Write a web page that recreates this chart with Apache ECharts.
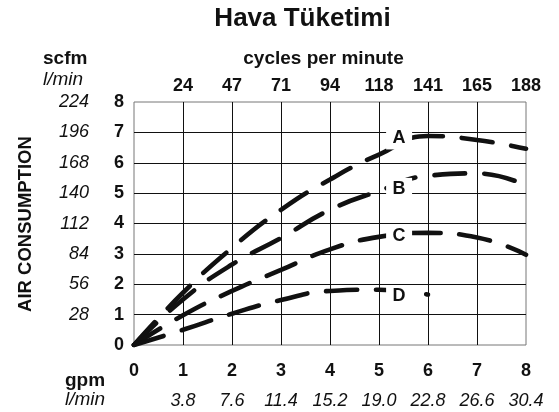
<!DOCTYPE html>
<html>
<head>
<meta charset="utf-8">
<script src="https://cdn.jsdelivr.net/npm/echarts@6/dist/echarts.min.js"></script>
<style>
html,body{margin:0;padding:0;background:#fff;}
#chart{width:559px;height:412px;}
</style>
</head>
<body>
<div id="chart"></div>
<script>
// ---- data ----
const gpm = [0, 1, 2, 3, 4, 5, 6, 7, 8];
const gpmLmin = ['', '3.8', '7.6', '11.4', '15.2', '19.0', '22.8', '26.6', '30.4'];
const cyclesPerMinute = ['', '24', '47', '71', '94', '118', '141', '165', '188'];
const scfmLmin = ['', '28', '56', '84', '112', '140', '168', '196', '224'];

const curveA = [0, 1.72, 3.2, 4.45, 5.45, 6.27, 6.88, 6.75, 6.46];
const curveB = [0, 1.5, 2.65, 3.52, 4.45, 5.07, 5.57, 5.65, 5.25];
const curveC = [0, 0.98, 1.78, 2.47, 3.15, 3.56, 3.69, 3.54, 2.97];
const curveD = [0, 0.5, 1.03, 1.48, 1.78, 1.82, 1.66];

const curveNames = ['A', 'B', 'C', 'D'];
const labelX = [5.41, 5.41, 5.41, 5.41];
const labelY = [6.80, 5.14, 3.59, 1.61];

const FONT = 'Liberation Sans, Arial, Helvetica, sans-serif';

function pairs(vals) { return vals.map((v, i) => [gpm[i], v]); }

function curveSeries(name, vals) {
  return {
    name: name,
    type: 'line',
    data: pairs(vals),
    smooth: true,
    showSymbol: false,
    symbol: 'none',
    silent: true,
    z: 3,
    lineStyle: { color: '#111', width: 4.6, type: [31, 19], cap: 'round', opacity: 1 }
  };
}

const chart = echarts.init(document.getElementById('chart'));
chart.setOption({
  animation: false,
  backgroundColor: '#fff',
  grid: { left: 134, right: 33, top: 102, bottom: 67, show: true, borderColor: '#777', borderWidth: 1 },
  xAxis: [
    {
      type: 'value', position: 'bottom', min: 0, max: 8, interval: 1,
      axisLine: { show: false }, axisTick: { show: false },
      splitLine: { show: true, showMinLine: false, showMaxLine: false, lineStyle: { color: '#111', width: 1 } },
      axisLabel: { color: '#111', fontFamily: FONT, fontWeight: 'bold', fontSize: 18, margin: 17 }
    },
    {
      type: 'value', position: 'bottom', min: 0, max: 8, interval: 1,
      axisLine: { show: false }, axisTick: { show: false }, splitLine: { show: false },
      axisLabel: {
        color: '#111', fontFamily: FONT, fontStyle: 'italic', fontSize: 18, margin: 47,
        formatter: v => gpmLmin[Math.round(v)] || ''
      }
    },
    {
      type: 'value', position: 'top', min: 0, max: 8, interval: 1,
      axisLine: { show: false }, axisTick: { show: false }, splitLine: { show: false },
      axisLabel: {
        color: '#111', fontFamily: FONT, fontWeight: 'bold', fontSize: 18, margin: 7,
        formatter: v => cyclesPerMinute[Math.round(v)] || ''
      }
    }
  ],
  yAxis: [
    {
      type: 'value', position: 'left', min: 0, max: 8, interval: 1,
      axisLine: { show: false }, axisTick: { show: false },
      splitLine: { show: true, showMinLine: false, showMaxLine: false, lineStyle: { color: '#111', width: 1 } },
      axisLabel: { color: '#111', fontFamily: FONT, fontWeight: 'bold', fontSize: 18, margin: 10 }
    },
    {
      type: 'value', position: 'left', min: 0, max: 8, interval: 1,
      axisLine: { show: false }, axisTick: { show: false }, splitLine: { show: false },
      axisLabel: {
        color: '#111', fontFamily: FONT, fontStyle: 'italic', fontSize: 18, margin: 45,
        formatter: v => scfmLmin[Math.round(v)] || ''
      }
    }
  ],
  series: [
    curveSeries('A', curveA),
    curveSeries('B', curveB),
    curveSeries('C', curveC),
    curveSeries('D', curveD),
    {
      type: 'scatter',
      silent: true,
      z: 5,
      symbol: 'rect',
      symbolSize: [26, 22],
      itemStyle: { color: '#fff', opacity: 1 },
      emphasis: { disabled: true },
      data: curveNames.map((n, i) => ({ value: [labelX[i], labelY[i]], name: n })),
      label: {
        show: true, position: 'inside', formatter: p => p.name,
        color: '#111', opacity: 1, fontFamily: FONT, fontWeight: 'bold', fontSize: 18
      }
    }
  ],
  graphic: [
    { type: 'text', x: 302.5, y: 19, style: { text: 'Hava Tüketimi', font: 'bold 26px ' + FONT, fill: '#111', align: 'center', verticalAlign: 'middle' } },
    { type: 'text', x: 323.5, y: 59, style: { text: 'cycles per minute', font: 'bold 19px ' + FONT, fill: '#111', align: 'center', verticalAlign: 'middle' } },
    { type: 'text', x: 43, y: 58.5, style: { text: 'scfm', font: 'bold 19px ' + FONT, fill: '#111', align: 'left', verticalAlign: 'middle' } },
    { type: 'text', x: 43, y: 80, style: { text: 'l/min', font: 'italic 19px ' + FONT, fill: '#111', align: 'left', verticalAlign: 'middle' } },
    { type: 'text', x: 65, y: 381, style: { text: 'gpm', font: 'bold 19px ' + FONT, fill: '#111', align: 'left', verticalAlign: 'middle' } },
    { type: 'text', x: 65, y: 400, style: { text: 'l/min', font: 'italic 19px ' + FONT, fill: '#111', align: 'left', verticalAlign: 'middle' } },
    { type: 'text', x: 26.3, y: 224, rotation: Math.PI / 2, style: { text: 'AIR CONSUMPTION', font: 'bold 18.5px ' + FONT, fill: '#111', align: 'center', verticalAlign: 'middle' } }
  ]
});
</script>
</body>
</html>
